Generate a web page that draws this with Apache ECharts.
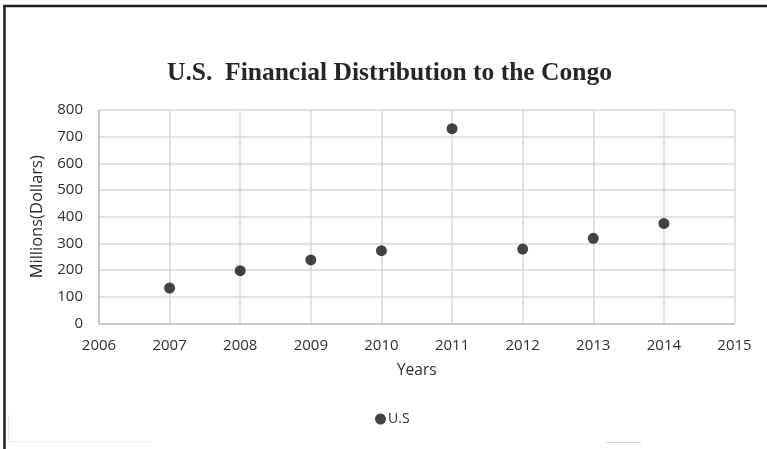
<!DOCTYPE html>
<html>
<head>
<meta charset="utf-8">
<script src="https://cdn.jsdelivr.net/npm/echarts@6/dist/echarts.min.js"></script>
<style>
html,body{margin:0;padding:0;background:#fff;}
#chart{width:767px;height:449px;}
</style>
</head>
<body>
<div id="chart"></div>
<script>
const titleText = 'U.S.  Financial Distribution to the Congo';
const seriesName = 'U.S';
const years = [2007, 2008, 2009, 2010, 2011, 2012, 2013, 2014];
const values = [133, 198, 238, 273, 730, 279, 319, 375];
const xMin = 2006, xMax = 2015, xStep = 1;
const yMin = 0, yMax = 800, yStep = 100;
const xName = 'Years';
const yName = 'Millions(Dollars)';

const chart = echarts.init(document.getElementById('chart'), null, {renderer: 'canvas'});
const labelFont = '"Open Sans", sans-serif';
const labelColor = '#2e2e2e';
chart.setOption({
  animation: false,
  backgroundColor: '#ffffff',
  title: {
    text: titleText,
    left: 167,
    top: 55,
    padding: [5, 0, 5, 0],
    textStyle: {fontFamily: '"Liberation Serif", "Times New Roman", serif', fontWeight: 'bold', fontSize: 25.5, color: '#262626'}
  },
  legend: {
    data: [seriesName],
    left: 370,
    top: 407,
    icon: 'circle',
    itemWidth: 11,
    itemHeight: 11,
    itemGap: 4,
    textStyle: {fontFamily: labelFont, fontSize: 14, color: labelColor, padding: [0,0,0,-3]}
  },
  grid: {left: 99, right: 32.5, top: 110, bottom: 125.5, containLabel: false},
  xAxis: {
    type: 'value', min: xMin, max: xMax, interval: xStep,
    name: xName, nameLocation: 'middle', nameGap: 39,
    nameTextStyle: {fontFamily: labelFont, fontSize: 15.5, color: labelColor},
    axisLine: {show: true, onZero: false, lineStyle: {color: '#bfbfbf', width: 1.5}},
    axisTick: {show: false},
    axisLabel: {fontFamily: labelFont, fontSize: 15, color: labelColor, margin: 15, formatter: v => String(v)},
    splitLine: {show: true, lineStyle: {color: '#d9d9d9', width: 1.5}}
  },
  yAxis: {
    type: 'value', min: yMin, max: yMax, interval: yStep,
    name: yName, nameLocation: 'middle', nameGap: 53,
    nameTextStyle: {fontFamily: labelFont, fontSize: 16.5, color: labelColor},
    axisLine: {show: true, lineStyle: {color: '#bfbfbf', width: 1.5}},
    axisTick: {show: false},
    axisLabel: {fontFamily: labelFont, fontSize: 15, color: labelColor, margin: 16},
    splitLine: {show: true, lineStyle: {color: '#d9d9d9', width: 1.5}}
  },
  series: [{
    name: seriesName,
    type: 'scatter',
    symbol: 'circle',
    symbolSize: 11,
    itemStyle: {color: '#141414'},
    data: years.map((y, i) => [y, values[i]])
  }],
  graphic: [
    {type: 'line', shape: {x1: 3, y1: 6, x2: 767, y2: 6}, style: {stroke: '#231f20', lineWidth: 2.5}},
    {type: 'line', shape: {x1: 4.5, y1: 5, x2: 4.5, y2: 449}, style: {stroke: '#231f20', lineWidth: 2.5}},
    {type: 'line', shape: {x1: 8.5, y1: 415, x2: 8.5, y2: 441}, style: {stroke: '#e6e6e6', lineWidth: 1}},
    {type: 'line', shape: {x1: 8, y1: 441.5, x2: 152, y2: 441.5}, style: {stroke: '#ececec', lineWidth: 1}},
    {type: 'line', shape: {x1: 606, y1: 442.5, x2: 641, y2: 442.5}, style: {stroke: '#d6d6d6', lineWidth: 1}}
  ]
});
</script>
</body>
</html>
